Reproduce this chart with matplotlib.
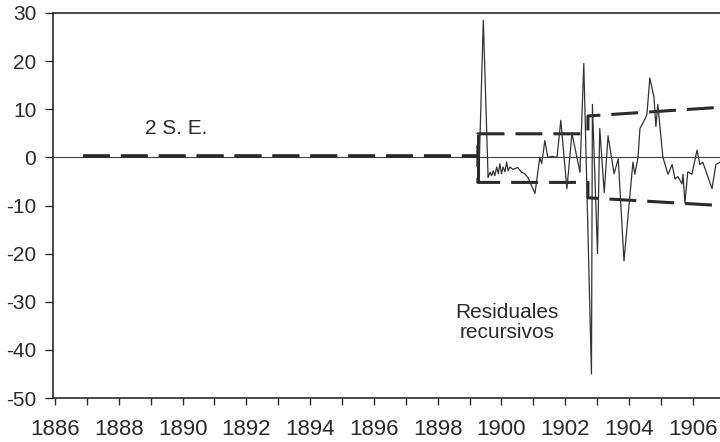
import matplotlib
matplotlib.use('Agg')
import matplotlib.pyplot as plt

plt.rcParams['font.family'] = ['Liberation Sans', 'DejaVu Sans']
plt.rcParams['axes.unicode_minus'] = False

# Recursive residuals
res_years = [1899.31, 1899.43, 1899.58, 1899.64, 1899.69, 1899.74, 1899.79, 1899.85,
             1899.90, 1899.95, 1900.00, 1900.05, 1900.11, 1900.16, 1900.21, 1900.26,
             1900.36, 1900.51, 1900.63, 1900.73, 1900.83, 1901.05, 1901.20, 1901.26,
             1901.36, 1901.45, 1901.58, 1901.74, 1901.86, 1902.05, 1902.21, 1902.46,
             1902.58, 1902.82, 1902.85, 1903.01, 1903.08, 1903.22, 1903.34, 1903.53,
             1903.66, 1903.84, 1904.12, 1904.18, 1904.28, 1904.34, 1904.50, 1904.56,
             1904.65, 1904.78, 1904.84, 1904.90, 1905.06, 1905.22, 1905.35, 1905.44,
             1905.53, 1905.66, 1905.69, 1905.75, 1905.84, 1905.97, 1906.13, 1906.22,
             1906.31, 1906.60, 1906.72, 1906.85]
res_values = [0.5, 28.5, -4.2, -3.1, -3.8, -2.8, -3.8, -2.0,
              -3.4, -1.3, -3.4, -2.0, -3.0, -1.0, -2.8, -2.0,
              -2.5, -2.1, -3.1, -3.4, -4.2, -7.5, 0.0, -1.3,
              3.5, 0.0, 0.2, 0.0, 7.7, -6.5, 5.0, -3.1,
              19.5, -45.0, 11.0, -20.0, 6.0, -7.3, 4.5, -3.4,
              -0.3, -21.5, -1.0, -3.5, 0.0, 6.0, 8.0, 9.0,
              16.5, 12.5, 6.4, 11.0, 0.0, -3.5, -1.5, -4.5,
              -4.0, -5.5, -3.5, -9.5, -3.0, -3.5, 1.5, -1.5,
              -1.0, -6.5, -1.5, -1.0]

# 2 S.E. bands (step changes at 1899.26 and 1902.71)
band_years = [1886.88, 1899.26, 1899.26, 1902.71, 1902.71, 1906.85]
band_upper = [0.3, 0.3, 4.9, 4.9, 8.6, 10.4]
band_lower = [0.3, 0.3, -5.2, -5.2, -8.4, -10.0]

x_ticks = list(range(1886, 1907))
x_labels = [str(y) if y % 2 == 0 else '' for y in x_ticks]
y_ticks = [30, 20, 10, 0, -10, -20, -30, -40, -50]

ink = '#2a2a2a'

fig = plt.figure(figsize=(7.2, 4.42), dpi=100)
ax = fig.add_axes([53 / 720, 1 - 398 / 442, 1 - 53 / 720, (398 - 13) / 442])

ax.axhline(0, color='#444444', lw=0.8, zorder=1)

# bands
ax.plot(band_years, band_upper, color=ink, lw=2.2, dashes=(8.8, 3.6), zorder=2)
ax.plot(band_years, band_lower, color=ink, lw=2.2, dashes=(8.8, 3.6), zorder=2)
ax.vlines(band_years[1], band_lower[2], band_upper[2], color=ink, lw=2.2, zorder=2)

# residuals
ax.plot(res_years, res_values, color='#333333', lw=0.9, zorder=3)

ax.set_xlim(1885.94, 1906.85)
ax.set_ylim(-50, 30)
ax.set_xticks(x_ticks)
ax.set_xticklabels(x_labels)
ax.set_yticks(y_ticks)

for side in ['left', 'bottom', 'top']:
    ax.spines[side].set_color(ink)
    ax.spines[side].set_linewidth(1.2)
ax.spines['right'].set_visible(False)

ax.tick_params(axis='y', direction='out', length=6, width=1.0, pad=6,
               labelsize=15, colors=ink)
ax.tick_params(axis='x', direction='out', length=5, width=1.0, pad=10,
               labelsize=16, colors=ink)

ax.text(1888.82, 6.0, '2 S. E.', fontsize=15, color=ink, ha='left', va='center')
ax.text(1900.17, -34.3, 'Residuales\nrecursivos', fontsize=15, color=ink,
        ha='center', va='center', linespacing=1.05)

fig.savefig('out.png', dpi=100)
